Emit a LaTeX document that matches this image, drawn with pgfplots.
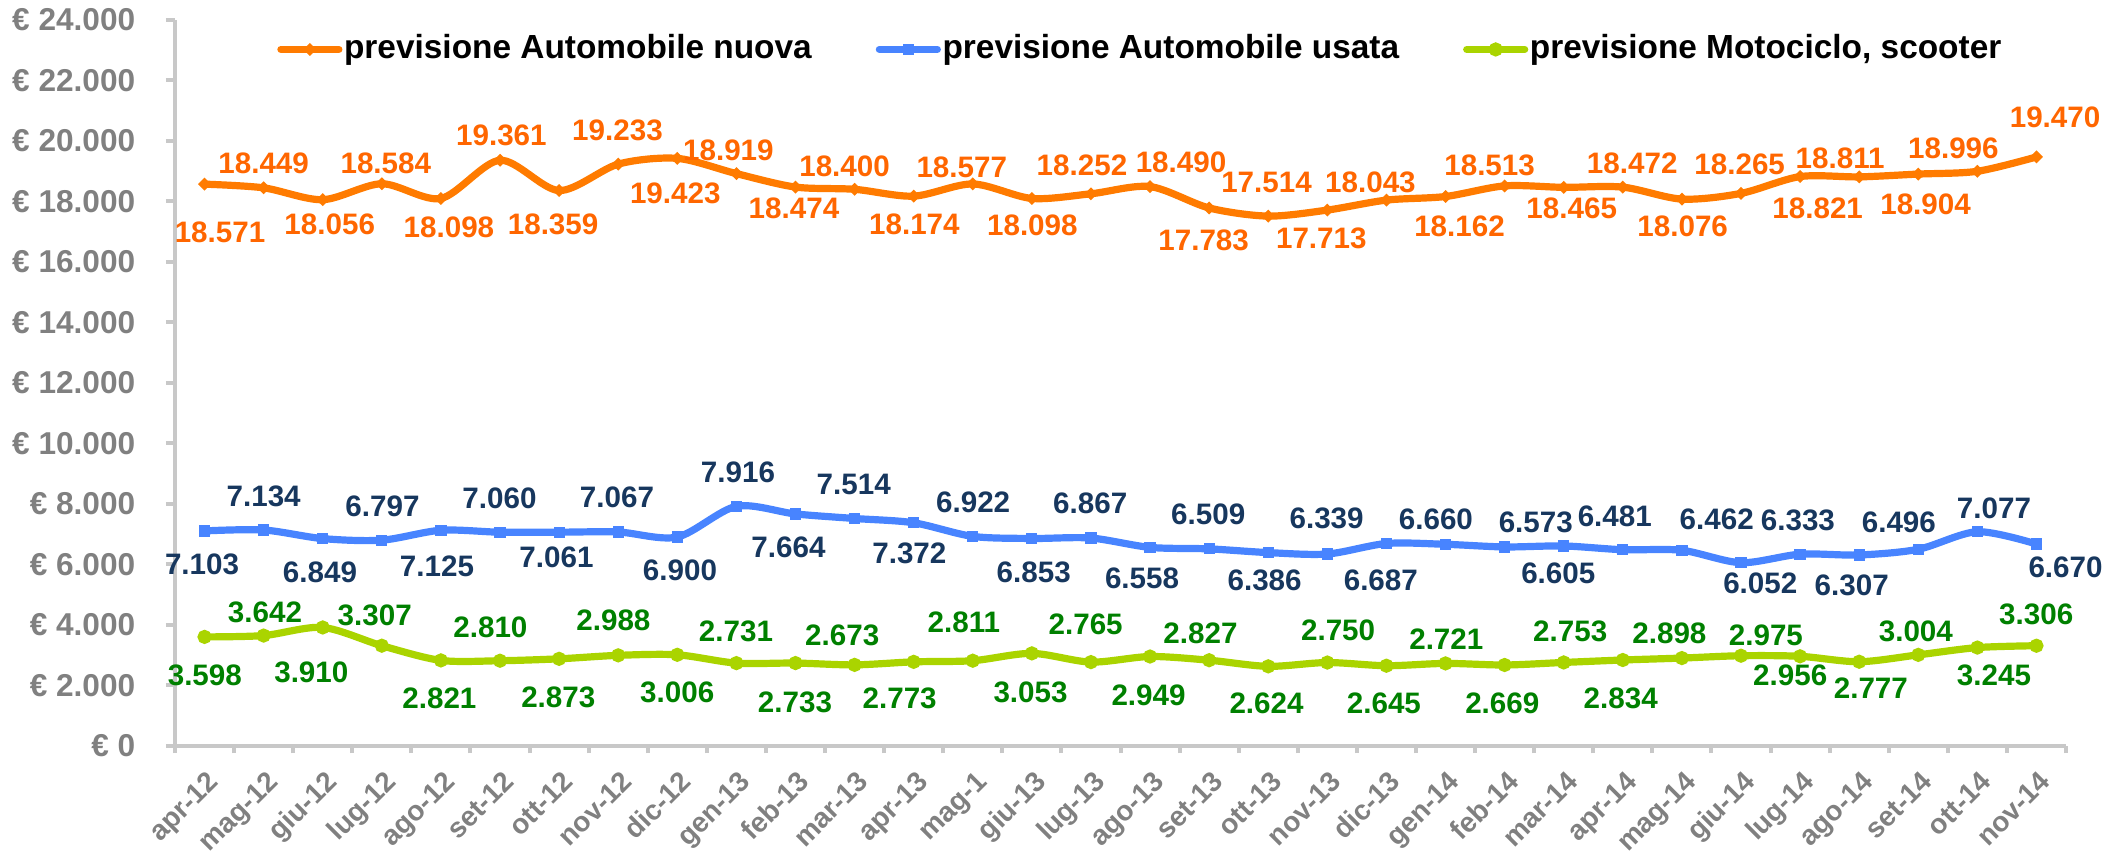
\documentclass[border=0pt]{standalone}
\usepackage{fontspec}
\setmainfont{Liberation Sans}
\usepackage{pgfplots}
\pgfplotsset{compat=1.18}

\definecolor{orline}{RGB}{255,123,0}
\definecolor{orlab}{RGB}{255,102,0}
\definecolor{ormark}{RGB}{112,48,160}
\definecolor{blline}{RGB}{72,132,255}
\definecolor{bllab}{RGB}{23,55,94}
\definecolor{blmark}{RGB}{140,140,140}
\definecolor{grline}{RGB}{170,212,0}
\definecolor{grlab}{RGB}{0,128,0}
\definecolor{grmark}{RGB}{60,170,120}
\definecolor{axgray}{RGB}{200,200,200}
\definecolor{tlgray}{RGB}{128,128,128}

% \lab{text}{dx}{dy}: data label, offset in reference pixels (dy positive = up)
\newdimen\labdx \newdimen\labdy
\protected\def\lab#1#2#3{\labdx=#2\dimexpr0.5pt\relax
  \labdy=#3\dimexpr0.25pt\relax \advance\labdy by -0.358em
  \makebox[0pt][c]{\hspace*{\labdx}\raisebox{\labdy}[0pt][0pt]{#1}}}

\pgfplotsset{
  lbl/.style={
    nodes near coords, point meta=explicit symbolic,
    every node near coord/.append style={font=\fontsize{7.4}{8}\selectfont\bfseries, anchor=center, inner sep=0pt, outer sep=0pt, text=#1},
  },
}

\begin{document}
\begin{tikzpicture}
\begin{axis}[
  scale only axis,
  width=472.75pt, height=181.43pt,
  xmin=-0.5, xmax=31.5,
  ymin=0, ymax=24000,
  clip=false,
  axis x line*=bottom,
  axis y line*=left,
  axis line style={draw=axgray, line width=1pt, -},
  tick align=outside,
  tick style={draw=axgray, line width=1pt},
  major tick length=2.3pt,
  minor tick length=1.9pt,
  xtick={0,...,31},
  major x tick style={draw=none},
  minor xtick={-0.5,0.5,...,31.5},
  xticklabels={apr-12,mag-12,giu-12,lug-12,ago-12,set-12,ott-12,nov-12,dic-12,gen-13,feb-13,mar-13,apr-13,mag-1,giu-13,lug-13,ago-13,set-13,ott-13,nov-13,dic-13,gen-14,feb-14,mar-14,apr-14,mag-14,giu-14,lug-14,ago-14,set-14,ott-14,nov-14},
  xticklabel style={xshift=4pt, yshift=-7pt, rotate=45, anchor=base east, inner sep=0pt, font=\fontsize{7}{8}\selectfont\bfseries, text=tlgray},
  ytick={0,2000,...,24000},
  yticklabels={€ 0,€ 2.000,€ 4.000,€ 6.000,€ 8.000,€ 10.000,€ 12.000,€ 14.000,€ 16.000,€ 18.000,€ 20.000,€ 22.000,€ 24.000},
  yticklabel style={anchor=east, inner sep=0pt, xshift=-7.45pt, font=\fontsize{7.9}{9}\selectfont\bfseries, text=tlgray},
  legend columns=3,
  legend cell align=left,
  legend style={at={(0.0541,0.9594)}, anchor=west, draw=none, fill=none, inner sep=0pt, outer sep=0pt,
    font=\fontsize{8.35}{10}\selectfont\bfseries, text=black,
    nodes={inner sep=0.4pt},
    /tikz/every even column/.append style={column sep=15.6pt}},
  legend image code/.code={\draw[mark repeat=2, mark phase=2, #1, line width=1.8pt, line cap=round] plot coordinates {(0pt,0pt) (7.25pt,0pt) (14.5pt,0pt)};},
]
\addplot[orline, line width=1.8pt, line cap=round, mark=*, mark size=0.35pt, mark options={draw=none, fill=ormark}, smooth, lbl=orlab] coordinates {
(0,18571) [\lab{18.571}{15.5}{-47.5}]
(1,18449) [\lab{18.449}{0}{24.5}]
(2,18056) [\lab{18.056}{7}{-24.3}]
(3,18584) [\lab{18.584}{4}{20.5}]
(4,18098) [\lab{18.098}{8}{-28}]
(5,19361) [\lab{19.361}{1.4}{25}]
(6,18359) [\lab{18.359}{-6}{-33}]
(7,19233) [\lab{19.233}{-0.7}{34}]
(8,19423) [\lab{19.423}{-2}{-35}]
(9,18919) [\lab{18.919}{-8}{23.6}]
(10,18474) [\lab{18.474}{-1.5}{-21}]
(11,18400) [\lab{18.400}{-10}{23}]
(12,18174) [\lab{18.174}{0.7}{-28}]
(13,18577) [\lab{18.577}{-11}{17.3}]
(14,18098) [\lab{18.098}{0.5}{-26.6}]
(15,18252) [\lab{18.252}{-9}{28.8}]
(16,18490) [\lab{18.490}{31}{25}]
(17,17783) [\lab{17.783}{-5.5}{-32}]
(18,17514) [\lab{17.514}{-1.7}{34.4}]
(19,17713) [\lab{17.713}{-6}{-28.2}]
(20,18043) [\lab{18.043}{-16}{18.4}]
(21,18162) [\lab{18.162}{14}{-29.5}]
(22,18513) [\lab{18.513}{-15}{21}]
(23,18465) [\lab{18.465}{8}{-21}]
(24,18472) [\lab{18.472}{9.4}{23.8}]
(25,18076) [\lab{18.076}{0.8}{-27}]
(26,18265) [\lab{18.265}{-1.3}{29.4}]
(27,18821) [\lab{18.821}{17.6}{-31.7}]
(28,18811) [\lab{18.811}{-19}{18.6}]
(29,18904) [\lab{18.904}{7.3}{-30}]
(30,18996) [\lab{18.996}{-24}{23}]
(31,19470) [\lab{19.470}{18.6}{40.3}]
};
\addlegendentry{previsione Automobile nuova}
\addplot[blline, line width=1.8pt, line cap=round, mark=square*, mark size=0.5pt, mark options={draw=none, fill=blmark}, smooth, lbl=bllab] coordinates {
(0,7103) [\lab{7.103}{-2.5}{-33}]
(1,7134) [\lab{7.134}{0}{34}]
(2,6849) [\lab{6.849}{-2.7}{-33}]
(3,6797) [\lab{6.797}{0.7}{34}]
(4,7125) [\lab{7.125}{-3.9}{-36}]
(5,7060) [\lab{7.060}{-0.5}{34}]
(6,7061) [\lab{7.061}{-2.6}{-25}]
(7,7067) [\lab{7.067}{-1.2}{35}]
(8,6900) [\lab{6.900}{2.7}{-33}]
(9,7916) [\lab{7.916}{1.6}{34.6}]
(10,7664) [\lab{7.664}{-7}{-32.8}]
(11,7514) [\lab{7.514}{-0.8}{35}]
(12,7372) [\lab{7.372}{-4.3}{-30}]
(13,6922) [\lab{6.922}{0.4}{34.7}]
(14,6853) [\lab{6.853}{1.9}{-33}]
(15,6867) [\lab{6.867}{-0.7}{35}]
(16,6558) [\lab{6.558}{-8}{-31}]
(17,6509) [\lab{6.509}{-0.9}{35}]
(18,6386) [\lab{6.386}{-3.6}{-27}]
(19,6339) [\lab{6.339}{-0.7}{35.7}]
(20,6687) [\lab{6.687}{-5.6}{-36.5}]
(21,6660) [\lab{6.660}{-9.6}{25}]
(22,6573) [\lab{6.573}{31.2}{25.3}]
(23,6605) [\lab{6.605}{-5.4}{-26.7}]
(24,6481) [\lab{6.481}{-8}{33.7}]
(25,6462) [\lab{6.462}{34.8}{31}]
(26,6052) [\lab{6.052}{19.3}{-20.6}]
(27,6333) [\lab{6.333}{-2.2}{34}]
(28,6307) [\lab{6.307}{-7.5}{-30}]
(29,6496) [\lab{6.496}{-19.4}{27.6}]
(30,7077) [\lab{7.077}{16.6}{23.4}]
(31,6670) [\lab{6.670}{29.1}{-22.7}]
};
\addlegendentry{previsione Automobile usata}
\addplot[grline, line width=1.8pt, line cap=round, mark=*, mark size=0.83pt, mark options={draw=none, fill=grmark}, smooth, lbl=grlab] coordinates {
(0,3598) [\lab{3.598}{0.3}{-38}]
(1,3642) [\lab{3.642}{1.3}{24}]
(2,3910) [\lab{3.910}{-11.4}{-44}]
(3,3307) [\lab{3.307}{-7.1}{30.7}]
(4,2821) [\lab{2.821}{-1.5}{-38}]
(5,2810) [\lab{2.810}{-9.6}{33.4}]
(6,2873) [\lab{2.873}{-0.8}{-38}]
(7,2988) [\lab{2.988}{-4.8}{35.3}]
(8,3006) [\lab{3.006}{-0.1}{-37}]
(9,2731) [\lab{2.731}{-0.4}{32.4}]
(10,2733) [\lab{2.733}{-0.5}{-38.6}]
(11,2673) [\lab{2.673}{-12.3}{30}]
(12,2773) [\lab{2.773}{-14}{-36.5}]
(13,2811) [\lab{2.811}{-8.8}{39}]
(14,3053) [\lab{3.053}{-1.3}{-38.3}]
(15,2765) [\lab{2.765}{-5.3}{38}]
(16,2949) [\lab{2.949}{-1.5}{-38.5}]
(17,2827) [\lab{2.827}{-8.7}{27}]
(18,2624) [\lab{2.624}{-1.7}{-37}]
(19,2750) [\lab{2.750}{10.8}{32.5}]
(20,2645) [\lab{2.645}{-2.5}{-37.6}]
(21,2721) [\lab{2.721}{0.8}{25}]
(22,2669) [\lab{2.669}{-2.3}{-38.3}]
(23,2753) [\lab{2.753}{6.5}{31.8}]
(24,2834) [\lab{2.834}{-2.1}{-38.3}]
(25,2898) [\lab{2.898}{-12.5}{25.4}]
(26,2975) [\lab{2.975}{24.9}{20.7}]
(27,2956) [\lab{2.956}{-9.9}{-18.7}]
(28,2777) [\lab{2.777}{11.7}{-26.6}]
(29,3004) [\lab{3.004}{-2.4}{24.2}]
(30,3245) [\lab{3.245}{16.6}{-27.4}]
(31,3306) [\lab{3.306}{-0.2}{31.7}]
};
\addlegendentry{previsione Motociclo, scooter}
\end{axis}
\pgfresetboundingbox
\path ([xshift=-43.75pt,yshift=-28.83pt]current axis.south west) rectangle ([xshift=13.5pt,yshift=5pt]current axis.north east);
\end{tikzpicture}
\end{document}
